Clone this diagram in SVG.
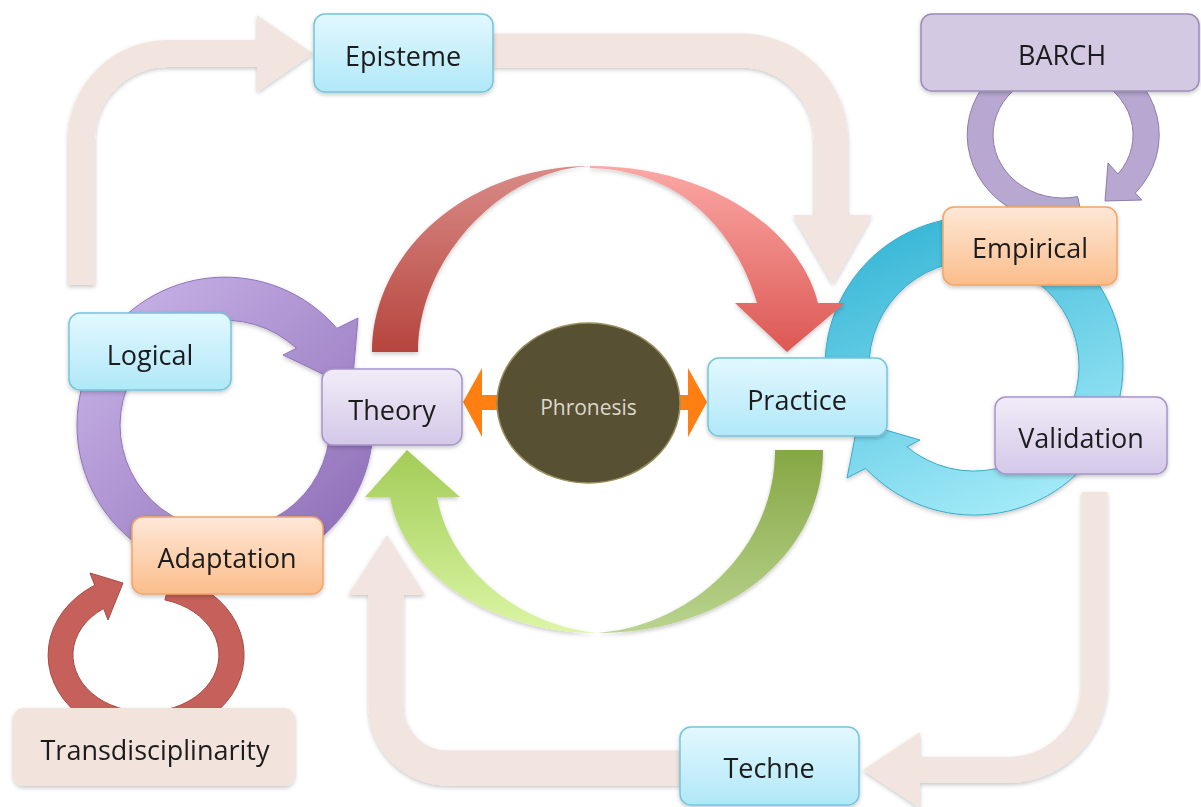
<svg xmlns="http://www.w3.org/2000/svg" width="1201" height="807" viewBox="0 0 1201 807">
  <style>
    .lbl { font-family: "Open Sans", "Liberation Sans", sans-serif; font-size: 27px; fill: #1c1c1c; text-anchor: middle; }
    .blue { fill: url(#gBlue); stroke: #74c5db; stroke-width: 1.5; }
    .lav { fill: url(#gLav); stroke: #a794c9; stroke-width: 1.5; }
    .orng { fill: url(#gOrange); stroke: #f2a566; stroke-width: 1.5; }
    .pale { fill: none; stroke: #f2e4de; }
    .paleHead { fill: #f2e4de; }
  </style>
  <defs>
    <linearGradient id="gBlue" x1="0" y1="0" x2="0" y2="1">
      <stop offset="0" stop-color="#e3f8fe"/>
      <stop offset="1" stop-color="#b0e8f8"/>
    </linearGradient>
    <linearGradient id="gLav" x1="0" y1="0" x2="0" y2="1">
      <stop offset="0" stop-color="#f1ecf8"/>
      <stop offset="1" stop-color="#d4c8e8"/>
    </linearGradient>
    <linearGradient id="gOrange" x1="0" y1="0" x2="0" y2="1">
      <stop offset="0" stop-color="#fee8d7"/>
      <stop offset="1" stop-color="#fbbd8b"/>
    </linearGradient>
    <linearGradient id="gRingPurple" x1="0" y1="0" x2="1" y2="1">
      <stop offset="0" stop-color="#cdb9eb"/>
      <stop offset="1" stop-color="#8a68b4"/>
    </linearGradient>
    <linearGradient id="gRingCyan" x1="0.2" y1="0" x2="0.6" y2="1">
      <stop offset="0" stop-color="#34b5d5"/>
      <stop offset="1" stop-color="#a2eaf8"/>
    </linearGradient>
    <linearGradient id="gRedBack" x1="0" y1="0" x2="0" y2="1">
      <stop offset="0" stop-color="#d98b88"/>
      <stop offset="1" stop-color="#b6453d"/>
    </linearGradient>
    <linearGradient id="gRedFront" x1="0" y1="0" x2="0" y2="1">
      <stop offset="0" stop-color="#fba8a5"/>
      <stop offset="1" stop-color="#dc5853"/>
    </linearGradient>
    <linearGradient id="gGreenBack" x1="0" y1="0" x2="0" y2="1">
      <stop offset="0" stop-color="#86a744"/>
      <stop offset="1" stop-color="#bad48f"/>
    </linearGradient>
    <linearGradient id="gGreenFront" x1="0" y1="0" x2="0" y2="1">
      <stop offset="0" stop-color="#a2cc57"/>
      <stop offset="1" stop-color="#dcf6a5"/>
    </linearGradient>
    <filter id="shadow" x="-10%" y="-10%" width="125%" height="140%">
      <feDropShadow dx="0" dy="2" stdDeviation="2" flood-color="#000" flood-opacity="0.22"/>
    </filter>
  </defs>

  <rect width="1201" height="807" fill="#ffffff"/>

  <g id="connectors">
    <!-- broad pale flow arrows -->
    <g filter="url(#shadow)">
      <path class="pale" stroke-width="27" d="M 81.5 285 L 81.5 139.5 A 86 86 0 0 1 167.5 53.5 L 258 53.5"/>
      <polygon class="paleHead" points="257,15 313,53.5 257,92"/>
      <path class="pale" stroke-width="34" d="M 493 50.5 L 741 50.5 A 90 90 0 0 1 831 140.5 L 831 216"/>
      <polygon class="paleHead" points="793,215 872,215 833,284"/>
      <path class="pale" stroke-width="26" d="M 1094.5 492 L 1094.5 683 A 87 87 0 0 1 1007.5 770 L 919 770"/>
      <polygon class="paleHead" points="920,732 863,770 920,808"/>
      <path class="pale" stroke-width="35" d="M 681 768 L 448 768 A 62 62 0 0 1 386 706 L 386 594"/>
      <polygon class="paleHead" points="348,595 387,535 425,595"/>
    </g>

    <!-- cycle around Logical / Adaptation -->
    <path fill="url(#gRingPurple)" stroke="#8e74b8" stroke-width="1" filter="url(#shadow)"
          d="M 372.4 412.1 A 148 148 0 1 1 337 328.4 L 358 318 L 352 388 L 283 355 L 296.5 348.3 A 105 105 0 1 0 329.6 415.8 Z"/>

    <!-- cycle around Empirical / Validation -->
    <path fill="url(#gRingCyan)" stroke="#3aa9c8" stroke-width="1" filter="url(#shadow)"
          d="M 825.1 371.2 A 149 149 0 1 1 865.6 468.3 L 847 478 L 858 422 L 920 440 L 906.9 446.8 A 105 105 0 1 0 869.1 369.7 Z"/>

    <!-- loop under BARCH -->
    <path fill="#b8a8d1" stroke="#8d7bad" stroke-width="1"
          d="M 1083 221.1 A 96 88 0 1 1 1135.3 193.1 L 1142 200 L 1105 201 L 1108 163 L 1118 174 A 70 63 0 1 0 1077.6 196.6 Z"/>

    <!-- loop above Transdisciplinarity -->
    <path fill="#c5615a" stroke="#aa4a43" stroke-width="1"
          d="M 171.4 575.8 A 98 82 0 1 1 94.7 585.2 L 90 573 L 123 583 L 108 620 L 103.6 608.5 A 73 57 0 1 0 164.9 599.9 Z"/>

    <!-- Theory to Practice (upper arc) -->
    <g filter="url(#shadow)">
      <path fill="url(#gRedBack)" d="M 372 352 C 372 250, 470 166, 590 166 C 500 170, 418 260, 418 352 Z"/>
      <path fill="url(#gRedFront)" d="M 590 166 C 710 166, 800 230, 818 303 L 845 303 L 787 352 L 735 303 L 757 303 C 735 230, 680 170, 590 168 Z"/>
    </g>

    <!-- Practice to Theory (lower arc) -->
    <g filter="url(#shadow)">
      <path fill="url(#gGreenBack)" d="M 775 450 L 823 450 C 823 560, 720 633, 597 633 C 690 626, 775 550, 775 450 Z"/>
      <path fill="url(#gGreenFront)" d="M 597 633 C 500 633, 405 580, 390 497 L 365 497 L 407 450 L 460 497 L 437 497 C 450 570, 520 625, 597 633 Z"/>
    </g>

    <!-- Phronesis double arrow -->
    <g fill="#ff7f12">
      <rect x="478" y="395" width="30" height="15"/>
      <polygon points="482,368 463,402 482,437"/>
      <rect x="668" y="395" width="22" height="15"/>
      <polygon points="688,368 707,402 688,437"/>
    </g>
  </g>

  <g id="node-phronesis">
    <ellipse cx="588.5" cy="403" rx="91.5" ry="80" fill="#575033" stroke="#9a8e5c" stroke-width="1.5"/>
    <text x="588.5" y="415" font-family="Open Sans, Liberation Sans, sans-serif" font-size="21" fill="#dcd8cc" text-anchor="middle">Phronesis</text>
  </g>

  <g id="node-episteme" filter="url(#shadow)">
    <rect class="blue" x="314" y="14" width="179" height="78" rx="11"/>
    <text class="lbl" x="403" y="66">Episteme</text>
  </g>

  <g id="node-barch" filter="url(#shadow)">
    <rect x="921" y="14" width="278" height="77" rx="11" fill="#d4c9e2" stroke="#9c8cb8" stroke-width="1.5"/>
    <text class="lbl" x="1062" y="65">BARCH</text>
  </g>

  <g id="node-empirical" filter="url(#shadow)">
    <rect class="orng" x="943" y="207" width="174" height="78" rx="11"/>
    <text class="lbl" x="1030" y="258">Empirical</text>
  </g>

  <g id="node-logical" filter="url(#shadow)">
    <rect class="blue" x="69" y="313" width="162" height="77" rx="11"/>
    <text class="lbl" x="150" y="365">Logical</text>
  </g>

  <g id="node-theory" filter="url(#shadow)">
    <rect class="lav" x="322" y="369" width="140" height="76" rx="11"/>
    <text class="lbl" x="392" y="420">Theory</text>
  </g>

  <g id="node-practice" filter="url(#shadow)">
    <rect class="blue" x="708" y="358" width="179" height="78" rx="11"/>
    <text class="lbl" x="797" y="410">Practice</text>
  </g>

  <g id="node-validation" filter="url(#shadow)">
    <rect class="lav" x="995" y="397" width="172" height="77" rx="11"/>
    <text class="lbl" x="1081" y="448">Validation</text>
  </g>

  <g id="node-adaptation" filter="url(#shadow)">
    <rect class="orng" x="132" y="517" width="191" height="77" rx="11"/>
    <text class="lbl" x="227" y="568">Adaptation</text>
  </g>

  <g id="node-transdisciplinarity" filter="url(#shadow)">
    <rect x="13" y="708" width="282" height="78" rx="11" fill="#f2e3dd"/>
    <text class="lbl" x="155" y="760">Transdisciplinarity</text>
  </g>

  <g id="node-techne" filter="url(#shadow)">
    <rect class="blue" x="680" y="727" width="179" height="78" rx="11"/>
    <text class="lbl" x="769" y="778">Techne</text>
  </g>
</svg>
